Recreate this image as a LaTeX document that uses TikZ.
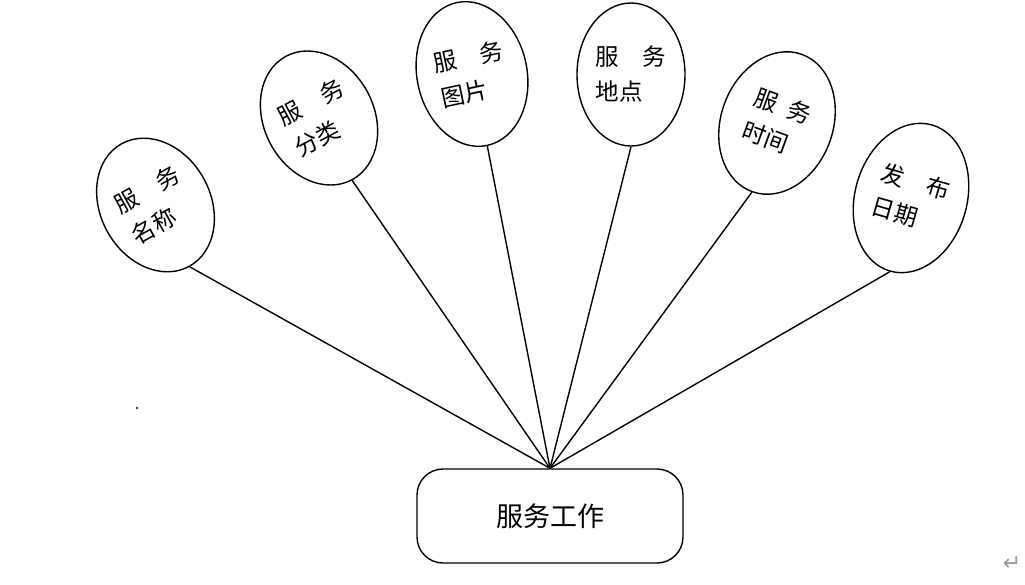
\documentclass[tikz,border=0pt]{standalone}
\usepackage{fontspec}
\setmainfont{Noto Sans CJK SC}
\newfontfamily\dejavu{DejaVu Sans}
\usetikzlibrary{shapes.geometric}
\begin{document}
\begin{tikzpicture}[x=1pt,y=-1pt,
  attr/.style={draw, line width=1.4pt, ellipse, inner sep=0pt, align=left,
     font=\fontsize{23.5}{35}\selectfont},
  entity/.style={draw, line width=1.4pt, rounded corners=26pt, minimum width=266pt,
     minimum height=94pt, font=\fontsize{27}{30}\selectfont},
  link/.style={line width=1.4pt}]
\useasboundingbox (0,0) rectangle (1025,584);
\node[attr, minimum width=110pt, minimum height=140pt, rotate=29] (e1) at (155.5,205) {服\quad 务\\名称};
\node[attr, minimum width=110pt, minimum height=140pt, rotate=28] (e2) at (319,118) {服\quad 务\\分类};
\node[attr, minimum width=110pt, minimum height=146pt, rotate=12] (e3) at (472,74) {服\quad 务\\图片};
\node[attr, minimum width=108pt, minimum height=143pt] (e4) at (631,74.5) {服\quad 务\\地点};
\node[attr, minimum width=112pt, minimum height=146pt, rotate=-20] (e5) at (777,123) {服\enspace 务\\时间};
\node[attr, minimum width=112pt, minimum height=152pt, rotate=-16] (e6) at (911,198) {发\quad 布\\日期};
\node[entity] (box) at (550,516) {服务工作};
\foreach \e in {e1,e2,e3,e4,e5,e6}
  \draw[link] (\e.south) -- (box.north);
\fill (137,408) circle (1.1pt);
\node[text=gray!80, font=\dejavu\fontsize{22}{22}\selectfont] (ret) at (1012,564) {↵};
\end{tikzpicture}
\end{document}
